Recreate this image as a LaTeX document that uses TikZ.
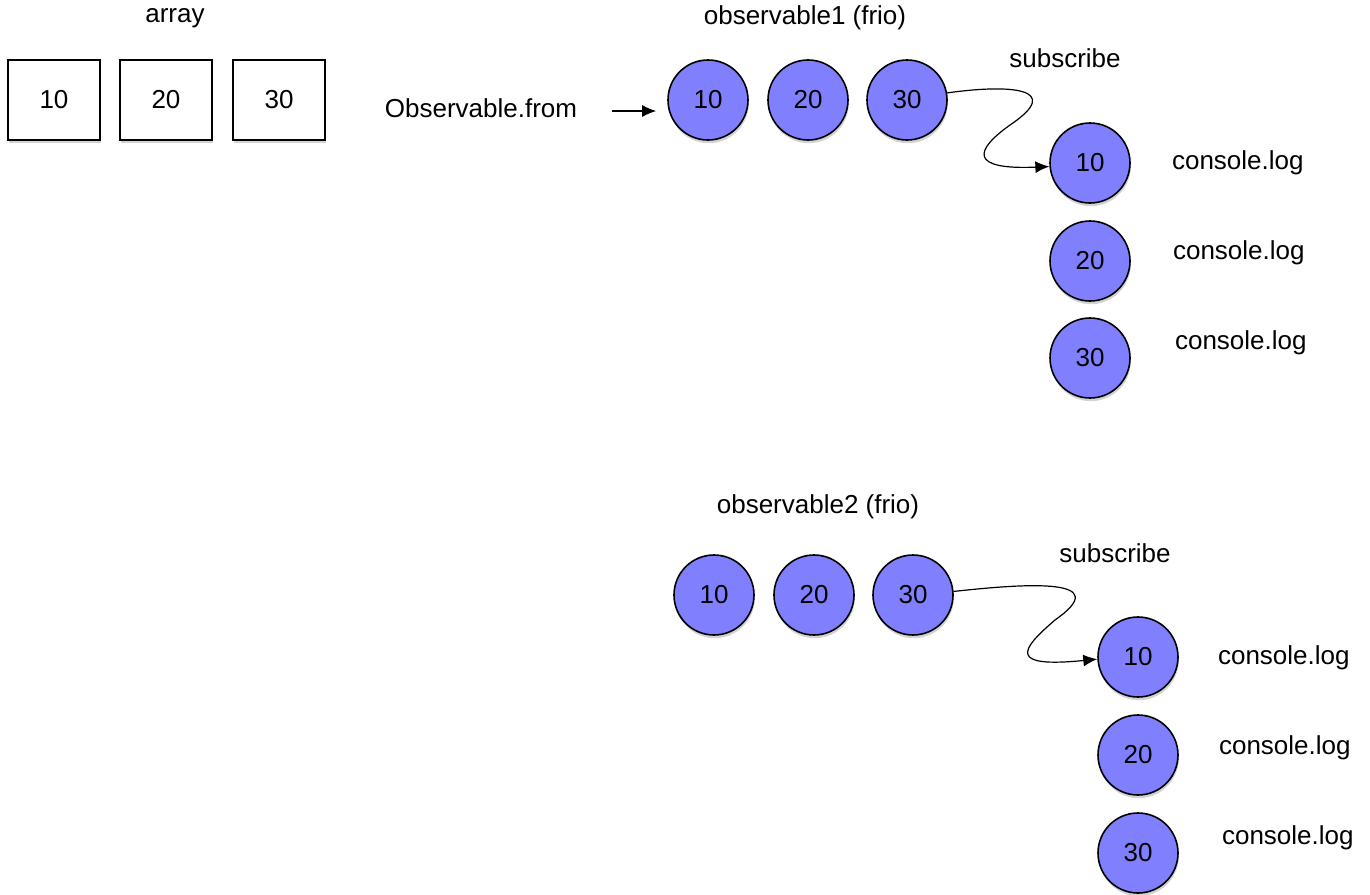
\documentclass[tikz,border=0pt]{standalone}
\usepackage{fontspec}
\setmainfont{Liberation Sans}
\usetikzlibrary{arrows.meta,shadows}

\tikzset{
  valbox/.style={draw, fill=white, line width=0.8pt, minimum width=46pt, minimum height=40pt,
    drop shadow={shadow xshift=0.4pt, shadow yshift=-1.6pt, opacity=0.35}},
  valdot/.style={circle, draw, fill=blue!50, line width=0.8pt, minimum size=40pt, inner sep=0pt,
    drop shadow={shadow xshift=0.4pt, shadow yshift=-1.6pt, opacity=0.35}},
  flow/.style={-{Latex[length=7pt,width=6pt]}, line width=0.6pt}
}

\begin{document}
\begin{tikzpicture}[x=0.5pt, y=-0.5pt, font=\fontsize{13}{15}\selectfont]
    \useasboundingbox (0,0) rectangle (1370,894);

    % Array
    \node (ArrayLabel) at (175,18) {array};
    \node[valbox] (Box10) at (54,100) {10};
    \node[valbox] (Box20) at (166,100) {20};
    \node[valbox] (Box30) at (279,100) {30};

    % Observable.from
    \node (FromLabel) at (481,108) {Observable.from};
    \coordinate (FromTail) at (612,111);

    % First observable
    \node (ObsOneLabel) at (805,18) {observable1 (frio)};
    \node[valdot] (ObsOne10) at (708,100) {10};
    \node[valdot] (ObsOne20) at (808,100) {20};
    \node[valdot] (ObsOne30) at (907,100) {30};
    \draw[flow, shorten >=5.5pt] (FromTail) -- (FromTail -| ObsOne10.west);

    % First subscription
    \node (SubOneLabel) at (1065,58) {subscribe};
    \node[valdot] (SubOne10) at (1090,163) {10};
    \node[valdot] (SubOne20) at (1090,261) {20};
    \node[valdot] (SubOne30) at (1090,358) {30};
    \node[anchor=west] (LogOne10) at (1165,163) {console.log};
    \node[anchor=west] (LogOne20) at (1166,253) {console.log};
    \node[anchor=west] (LogOne30) at (1168,343) {console.log};
    \draw[flow] (ObsOne30.10) .. controls (1010,84) and (1065,88) .. (1010,125)
        .. controls (975,150) and (968,170) .. (SubOne10.185);

    % Second observable
    \node (ObsTwoLabel) at (818,507) {observable2 (frio)};
    \node[valdot] (ObsTwo10) at (714,595) {10};
    \node[valdot] (ObsTwo20) at (814,595) {20};
    \node[valdot] (ObsTwo30) at (913,595) {30};

    % Second subscription
    \node (SubTwoLabel) at (1115,553) {subscribe};
    \node[valdot] (SubTwo10) at (1138,657) {10};
    \node[valdot] (SubTwo20) at (1138,755) {20};
    \node[valdot] (SubTwo30) at (1138,853) {30};
    \node[anchor=west] (LogTwo10) at (1211,658) {console.log};
    \node[anchor=west] (LogTwo20) at (1212,748) {console.log};
    \node[anchor=west] (LogTwo30) at (1215,838) {console.log};
    \draw[flow] (ObsTwo30.5) .. controls (1030,583) and (1115,578) .. (1055,620)
        .. controls (1020,650) and (1008,668) .. (SubTwo10.183);
\end{tikzpicture}
\end{document}
